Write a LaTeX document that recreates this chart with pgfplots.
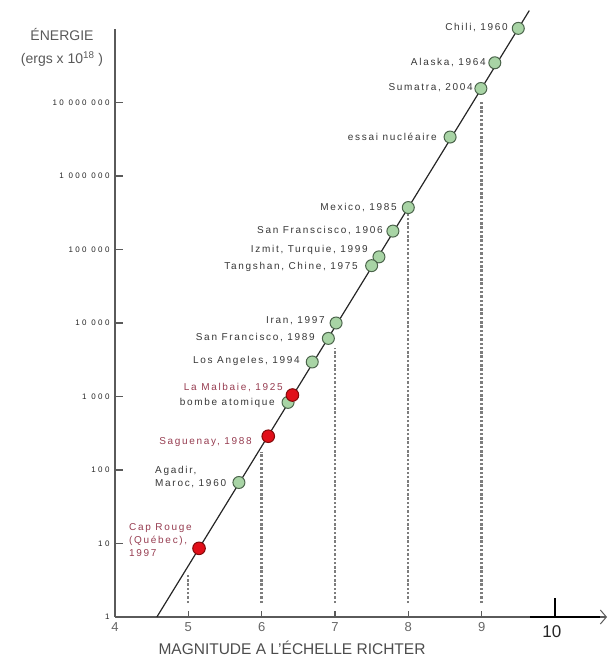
\documentclass[border=0pt]{standalone}
\usepackage{pgfplots}
\pgfplotsset{compat=1.18}
\usepackage{fontspec}
\setmainfont{Liberation Sans}
\newfontfamily\lab[LetterSpace=17]{Liberation Sans}
\newfontfamily\tk[LetterSpace=30]{Liberation Sans}
\usetikzlibrary{arrows.meta}
\definecolor{gfill}{RGB}{168,212,165}
\definecolor{gedge}{RGB}{75,100,75}
\definecolor{rfill}{RGB}{225,15,25}
\definecolor{redge}{RGB}{130,10,10}
\definecolor{rtext}{RGB}{150,60,80}
\definecolor{ttext}{RGB}{55,55,55}
\definecolor{axc}{RGB}{90,90,90}
\definecolor{dashc}{RGB}{125,125,125}

\begin{document}
\begin{tikzpicture}
\useasboundingbox (0pt,0pt) rectangle (608pt,659pt);
\begin{axis}[at={(115pt,42pt)}, anchor=south west, scale only axis,
 width=492pt, height=588pt,
 xmin=4, xmax=10.71, ymode=log, ymin=1, ymax=1e8, clip=false,
 axis x line=bottom, axis y line=left,
 x axis line style={axc, line width=1.8pt, -{Straight Barb[length=6pt,width=14pt,line width=1pt]}},
 y axis line style={axc, line width=1.8pt, -},
 xtick={4,5,6,7,8,9}, xticklabels={4,5,6,7,8,9},
 ytick={1,10,100,1000,10000,100000,1000000,10000000},
 yticklabels={1,10,100,1 000,10 000,100 000,1 000 000,10 000 000},
 yminorticks=false, xminorticks=false,
 tick align=inside,
 xtick style={axc, line width=1.4pt, /pgfplots/major tick length=6pt},
 ytick style={axc, line width=1.5pt, /pgfplots/major tick length=8pt},
 /pgf/number format/assume math mode=true,
 xticklabel style={font=\fontsize{13}{13}\selectfont, text=black!60, yshift=-2pt},
 yticklabel style={font=\tk\fontsize{8}{8}\selectfont, text=black!85, xshift=-2pt},
 extra x ticks={10}, extra x tick labels={10},
 extra x tick style={tick align=inside,
   xtick style={black, line width=1.2pt, /pgfplots/major tick length=19pt},
   xticklabel style={font=\fontsize{17}{17}\selectfont, text=black!85, yshift=-3pt, xshift=-3pt}},
]
% vertical dashed guides
\addplot[dashc, line width=2.3pt, dash pattern=on 2.5pt off 1.8pt] coordinates {(5,1.55) (5,3.7)};
\addplot[dashc, line width=2.3pt, dash pattern=on 2.5pt off 1.8pt] coordinates {(6,1.55) (6,175)};
\addplot[dashc, line width=2.3pt, dash pattern=on 2.5pt off 1.8pt] coordinates {(7,1.55) (7,4500)};
\addplot[dashc, line width=2.3pt, dash pattern=on 2.5pt off 1.8pt] coordinates {(8,1.55) (8,316000)};
\addplot[dashc, line width=2.3pt, dash pattern=on 2.5pt off 1.8pt] coordinates {(9,1.55) (9,1.0e7)};
% black end of the x axis
\addplot[black, line width=1.3pt] coordinates {(9.66,1) (10.62,1)};
% energy-magnitude line
\addplot[black!85, line width=1.2pt] coordinates {(4.571,1) (9.65,1.78e8)};
% green points
\addplot[only marks, mark=*, mark size=6pt, mark options={fill=gfill, draw=gedge, line width=1pt}] coordinates {
(9.50,1.02e8) (9.18,3.47e7) (8.99,1.55e7) (8.57,3.39e6) (8.00,3.72e5)
(7.79,1.78e5) (7.60,7.94e4) (7.50,6.03e4) (7.015,1.0e4) (6.91,6.17e3)
(6.69,2.95e3) (6.36,832) (5.69,67.6)};
% red points
\addplot[only marks, mark=*, mark size=6.3pt, mark options={fill=rfill, draw=redge, line width=1pt}] coordinates {
(6.42,1047) (6.09,288) (5.146,8.6)};
\end{axis}
% labels
\begin{scope}[every node/.style={font=\lab\fontsize{10}{10}\selectfont, text=ttext, inner sep=0pt}]
\node[anchor=east] at (508pt,631pt) {Chili, 1960};
\node[anchor=east] at (486pt,596pt) {Alaska, 1964};
\node[anchor=east] at (473pt,571pt) {Sumatra, 2004};
\node[anchor=east] at (437pt,522pt) {essai nucléaire};
\node[anchor=east] at (397pt,451pt) {Mexico, 1985};
\node[anchor=east] at (383pt,428pt) {San Franscisco, 1906};
\node[anchor=east] at (368pt,409pt) {Izmit, Turquie, 1999};
\node[anchor=east] at (358pt,392pt) {Tangshan, Chine, 1975};
\node[anchor=east] at (325pt,338pt) {Iran, 1997};
\node[anchor=east] at (315pt,321pt) {San Francisco, 1989};
\node[anchor=east] at (300pt,298pt) {Los Angeles, 1994};
\node[anchor=east, text=rtext] at (283pt,271pt) {La Malbaie, 1925};
\node[anchor=east] at (275pt,256pt) {bombe atomique};
\node[anchor=east, text=rtext] at (252pt,217pt) {Saguenay, 1988};
\node[anchor=west, align=left, font=\lab\fontsize{10}{12.5}\selectfont] at (155pt,182pt) {Agadir,\\Maroc, 1960};
\node[anchor=west, align=left, text=rtext, font=\lab\fontsize{10}{13}\selectfont] at (129pt,119pt) {Cap Rouge\\(Québec),\\1997};
\end{scope}
\node[font=\fontsize{14}{15}\selectfont, text=black!65] at (62pt,624pt) {ÉNERGIE};
\node[font=\fontsize{14}{15}\selectfont, text=black!65] at (62pt,600pt) {(ergs x 10\textsuperscript{18} )};
\node[font=\fontsize{15.5}{16}\selectfont, text=black!70] at (292pt,11pt) {MAGNITUDE A L'ÉCHELLE RICHTER};
\end{tikzpicture}
\end{document}
